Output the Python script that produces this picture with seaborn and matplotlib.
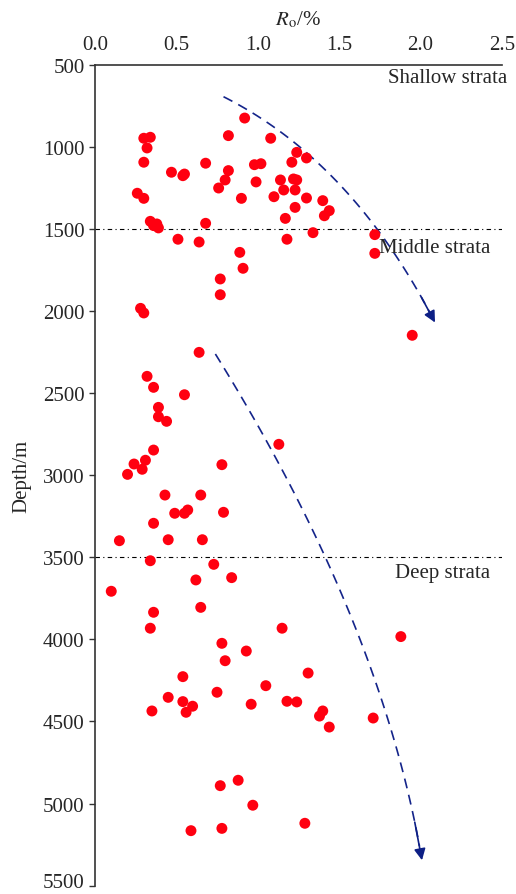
import numpy as np
import pandas as pd
import matplotlib
matplotlib.use("Agg")
import matplotlib.pyplot as plt
import matplotlib.transforms as mtransforms
import seaborn as sns

# vitrinite reflectance Ro (%) and depth (m)
ro = [0.92, 0.30, 0.34, 0.32, 0.30, 0.47, 0.54, 0.55, 0.68, 0.82, 1.08, 0.82,
      0.80, 0.76, 0.98, 1.02, 0.99, 0.90, 1.24, 1.21, 1.30, 1.14, 1.16, 1.23,
      1.22, 1.24, 1.10, 1.23, 1.30, 1.17, 1.18, 0.26, 0.30, 0.34, 0.36, 0.38,
      0.39, 0.68, 0.51, 0.64, 0.89, 0.91, 0.77, 0.77, 0.28, 0.30, 1.40, 1.44,
      1.41, 1.34, 1.72, 1.72, 1.95]
depth = [825, 948, 942, 1007, 1094, 1155, 1176, 1166, 1100, 932, 948, 1145,
         1202, 1251, 1109, 1103, 1214, 1314, 1034, 1094, 1068, 1202, 1263, 1263,
         1196, 1202, 1304, 1369, 1312, 1436, 1563, 1283, 1314, 1454, 1480, 1470,
         1494, 1466, 1563, 1580, 1643, 1740, 1805, 1901, 1984, 2012, 1328, 1389,
         1420, 1523, 1535, 1649, 2148]

ro_deep = [0.64, 0.32, 0.36, 0.55, 0.39, 0.39, 0.44, 0.36, 1.13, 0.24, 0.31,
           0.29, 0.20, 0.78, 0.43, 0.65, 0.49, 0.55, 0.57, 0.79, 0.36, 0.15,
           0.45, 0.66, 0.34, 0.73, 0.62, 0.84, 0.10, 0.65, 0.36, 0.34, 1.15,
           0.78, 1.88, 0.93, 0.80, 1.31, 0.54, 1.05, 0.75, 0.45, 0.54, 0.56,
           0.60, 0.35, 0.96, 1.18, 1.24, 1.40, 1.38, 1.44, 1.71, 0.77, 0.88,
           0.97, 0.59, 0.78, 1.29]
depth_deep = [2252, 2398, 2465, 2510, 2587, 2644, 2672, 2847, 2812, 2932, 2909,
              2964, 2995, 2936, 3121, 3121, 3232, 3232, 3212, 3226, 3293, 3399,
              3393, 3393, 3521, 3543, 3638, 3624, 3707, 3805, 3835, 3932, 3932,
              4024, 3983, 4071, 4130, 4205, 4227, 4282, 4322, 4353, 4379, 4444,
              4407, 4436, 4395, 4377, 4381, 4436, 4467, 4534, 4479, 4891, 4858,
              5010, 5165, 5151, 5120]

df = pd.DataFrame({"Ro": ro + ro_deep, "Depth": depth + depth_deep})

strata_lines = [1500, 3500]
strata_names = ["Shallow strata", "Middle strata", "Deep strata"]

sns.set_style("ticks")
plt.rcParams["font.family"] = ["Liberation Serif", "DejaVu Serif"]
plt.rcParams["mathtext.fontset"] = "stix"

fig = plt.figure(figsize=(5.16, 8.95), dpi=100)
ax = fig.add_axes([0.1841, 0.0093, 0.7882, 0.9173])

sns.scatterplot(data=df, x="Ro", y="Depth", ax=ax, color="#ff0010",
                s=62, edgecolor="none", zorder=3, legend=False)

for d in strata_lines:
    ax.axhline(d, color="black", lw=0.8, ls=(0, (4, 3, 1, 3)), zorder=2)

ax.text(2.535, 580, strata_names[0], ha="right", va="center", fontsize=15,
        clip_on=False)
ax.text(2.43, 1615, strata_names[1], ha="right", va="center", fontsize=15)
ax.text(2.43, 3595, strata_names[2], ha="right", va="center", fontsize=15)


# curved trend arrows (quadratic bezier)
def trend_arrow(p0, p1, p2):
    t = np.linspace(0, 0.97, 60)[:, None]
    pts = (1 - t) ** 2 * np.array(p0) + 2 * t * (1 - t) * np.array(p1) + t ** 2 * np.array(p2)
    ax.plot(pts[:, 0], pts[:, 1], color="#14248a", lw=1.2, ls=(0, (6, 4)), zorder=2)
    ax.annotate("", xy=p2, xytext=pts[-4],
                arrowprops=dict(arrowstyle="-|>", color="#0d1f85", lw=1.2,
                                mutation_scale=17, shrinkA=0, shrinkB=0))


trend_arrow((0.79, 695), (1.58, 1090), (2.09, 2070))
trend_arrow((0.74, 2262), (1.76, 3890), (2.01, 5345))

ax.set_xlim(0, 2.5)
ax.set_ylim(5500, 500)
ax.set_xticks([0, 0.5, 1.0, 1.5, 2.0, 2.5])
ax.set_xticklabels(["0.0", "0.5", "1.0", "1.5", "2.0", "2.5"])
ax.set_yticks(range(500, 5501, 500))
ax.xaxis.tick_top()
ax.xaxis.set_label_position("top")
ax.set_xlabel(r"$\mathit{R}_{\mathrm{o}}$/%", fontsize=15, labelpad=8)
ax.set_ylabel("Depth/m", fontsize=15, labelpad=8)
ax.tick_params(labelsize=15, direction="out", length=4, width=1, color="#333333")

# keep the bottom tick label inside the canvas
last = ax.get_yticklabels()[-1]
last.set_transform(last.get_transform() +
                   mtransforms.ScaledTranslation(0, 4 / 72, fig.dpi_scale_trans))

sns.despine(ax=ax, top=False, right=True, bottom=True, left=False)
for side in ["top", "left"]:
    ax.spines[side].set_color("#333333")
    ax.spines[side].set_linewidth(1.2)

fig.savefig("out.png", dpi=100)
